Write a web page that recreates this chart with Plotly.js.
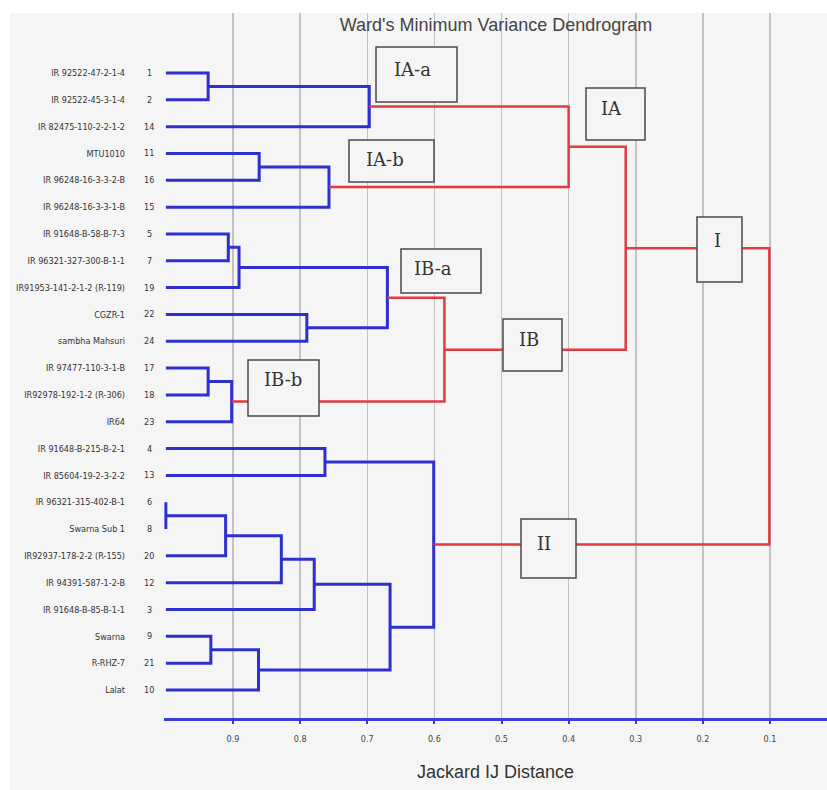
<!DOCTYPE html>
<html><head><meta charset="utf-8">
<script src="https://cdn.plot.ly/plotly-3.0.1.min.js"></script>
<style>html,body{margin:0;padding:0;background:#fff}</style>
</head><body><div id="chart" style="width:827px;height:790px"></div>
<script>
// ---- data ----
const leafNames = ["IR 92522-47-2-1-4", "IR 92522-45-3-1-4", "IR 82475-110-2-2-1-2", "MTU1010",
  "IR 96248-16-3-3-2-B", "IR 96248-16-3-3-1-B", "IR 91648-B-58-B-7-3", "IR 96321-327-300-B-1-1",
  "IR91953-141-2-1-2 (R-119)", "CGZR-1", "sambha Mahsuri", "IR 97477-110-3-1-B",
  "IR92978-192-1-2 (R-306)", "IR64", "IR 91648-B-215-B-2-1", "IR 85604-19-2-3-2-2",
  "IR 96321-315-402-B-1", "Swarna Sub 1", "IR92937-178-2-2 (R-155)", "IR 94391-587-1-2-B",
  "IR 91648-B-85-B-1-1", "Swarna", "R-RHZ-7", "Lalat"];
const leafNumbers = [1, 2, 14, 11, 16, 15, 5, 7, 19, 22, 24, 17, 18, 23, 4, 13, 6, 8, 20, 12, 3, 9, 21, 10];
const leafHeight = 1.0;
// linkage: nodes 0..23 are leaves (display order), merge k creates node 24+k
const mergeLeft   = [0, 24, 3, 26, 25, 6, 29, 9, 30, 11, 33, 32, 28, 14, 16, 38, 39, 40, 21, 42, 41, 37, 36];
const mergeRight  = [1, 2, 4, 5, 27, 7, 8, 10, 31, 12, 13, 34, 35, 15, 17, 18, 19, 20, 22, 23, 43, 44, 45];
const mergeHeight = [0.937, 0.697, 0.861, 0.757, 0.400, 0.907, 0.891, 0.790, 0.670, 0.937, 0.902, 0.585,
  0.315, 0.763, 1.000, 0.911, 0.828, 0.779, 0.933, 0.862, 0.666, 0.601, 0.101];
const mergeColor  = ["blue", "blue", "blue", "blue", "red", "blue", "blue", "blue", "blue", "blue", "blue", "red",
  "red", "blue", "blue", "blue", "blue", "blue", "blue", "blue", "blue", "blue", "red"];
const xTickVals   = [0.9, 0.8, 0.7, 0.6, 0.5, 0.4, 0.3, 0.2, 0.1];
const xTickLabels = ["0.9", "0.8", "0.7", "0.6", "0.5", "0.4", "0.3", "0.2", "0.1"];
const clusterLabels = ["IA-a", "IA-b", "IA", "I", "IB-a", "IB", "IB-b", "II"];

// ---- layout geometry (pixels) ----
const L = 164, R = 827, T = 13, B = 718;
const px = v => (v - L) / (R - L);
const py = v => (B - v) / (B - T);
// [x0, x1, y0, y1, textX, textY]
const boxGeom = [
  [376, 457, 47, 102, 412, 69],
  [349, 434, 140, 182, 385, 160],
  [586, 645, 88, 140, 611, 109],
  [697, 742, 217, 282, 717, 240],
  [401, 481, 249, 293, 433, 268],
  [503, 562, 319, 371, 529, 339],
  [248, 319, 360, 416, 283, 379],
  [521, 576, 519, 578, 544, 543]
];

// ---- build tree paths ----
const nodeY = leafNames.map((_, i) => i);
const nodeH = leafNames.map(() => leafHeight);
mergeLeft.forEach((l, k) => {
  const r = mergeRight[k];
  nodeY.push((nodeY[l] + nodeY[r]) / 2);
  nodeH.push(mergeHeight[k]);
});
const segs = {blue: {x: [], y: []}, red: {x: [], y: []}};
mergeLeft.forEach((l, k) => {
  const r = mergeRight[k], h = mergeHeight[k], s = segs[mergeColor[k]];
  s.x.push(nodeH[l], h, h, nodeH[r], null);
  s.y.push(nodeY[l], nodeY[l], nodeY[r], nodeY[r], null);
});
const BLUE = "#2f2fd0", RED = "#e23a3f";
const traces = [
  {type: "scatter", mode: "lines", x: segs.blue.x, y: segs.blue.y, cliponaxis: false,
   line: {color: BLUE, width: 3}, hoverinfo: "skip", showlegend: false},
  {type: "scatter", mode: "lines", x: segs.red.x, y: segs.red.y, cliponaxis: false,
   line: {color: RED, width: 2.5}, hoverinfo: "skip", showlegend: false}
];

const labelFont = {family: "Liberation Sans Narrow, Arial Narrow, DejaVu Sans Condensed, sans-serif", size: 9, color: "#333"};
const spacing = (690 - 73) / 23;
const yTop = -(73 - T) / spacing, yBot = 23 + (B - 690) / spacing;
const xLeft = 0.9 + (233 - L) / 671.25, xRight = 0.1 - (R - 770) / 671.25;

const shapes = [
  {type: "rect", xref: "paper", yref: "paper", x0: px(10), x1: px(R), y0: py(790), y1: py(T),
   fillcolor: "#f5f5f5", line: {width: 0}, layer: "below"}
];
const annotations = [];
boxGeom.forEach((g, i) => {
  shapes.push({type: "rect", xref: "paper", yref: "paper", x0: px(g[0]), x1: px(g[1]), y0: py(g[3]), y1: py(g[2]),
    fillcolor: "#f5f5f5", line: {color: "#4a4a4a", width: 1.5}, layer: "above"});
  annotations.push({xref: "paper", yref: "paper", x: px(g[4]), y: py(g[5]), xanchor: "center", yanchor: "middle",
    text: clusterLabels[i], showarrow: false, font: {family: "DejaVu Serif, Liberation Serif, serif", size: 18, color: "#333"}});
});
leafNumbers.forEach((num, i) => {
  annotations.push({xref: "paper", yref: "y", x: px(149), y: i, xanchor: "center", yanchor: "middle",
    text: String(num), showarrow: false, font: labelFont});
});

const layout = {
  width: 827, height: 790,
  margin: {l: L, r: 827 - R, t: T, b: 790 - B},
  paper_bgcolor: "#ffffff", plot_bgcolor: "#f5f5f5",
  title: {text: "Ward's Minimum Variance Dendrogram", x: px(496), xref: "paper", xanchor: "center",
    y: 1 - 25 / 790, yref: "container", yanchor: "middle",
    font: {family: "Liberation Sans, Arial, sans-serif", size: 18, color: "#444"}},
  xaxis: {range: [xLeft, xRight], tickvals: xTickVals, ticktext: xTickLabels,
    showgrid: true, gridcolor: "#c2c2c2", gridwidth: 1.5, zeroline: false,
    showline: true, linecolor: "#3b3bdc", linewidth: 2.5,
    ticks: "outside", ticklen: 3, tickwidth: 2, tickcolor: "#3b3bdc", ticklabelstandoff: 8,
    tickfont: {family: "Liberation Sans Narrow, Arial Narrow, DejaVu Sans Condensed, sans-serif", size: 9, color: "#444"},
    title: {text: "Jackard IJ Distance", standoff: 22,
      font: {family: "Liberation Sans, Arial, sans-serif", size: 18, color: "#333"}},
    automargin: false, fixedrange: true},
  yaxis: {range: [yBot, yTop], tickvals: leafNames.map((_, i) => i), ticktext: leafNames,
    showgrid: false, zeroline: false, showline: false, ticks: "", ticklabelstandoff: 38,
    tickfont: labelFont, automargin: false, fixedrange: true},
  shapes: shapes, annotations: annotations, showlegend: false
};
Plotly.newPlot("chart", traces, layout, {staticPlot: true, displayModeBar: false});
</script></body></html>
